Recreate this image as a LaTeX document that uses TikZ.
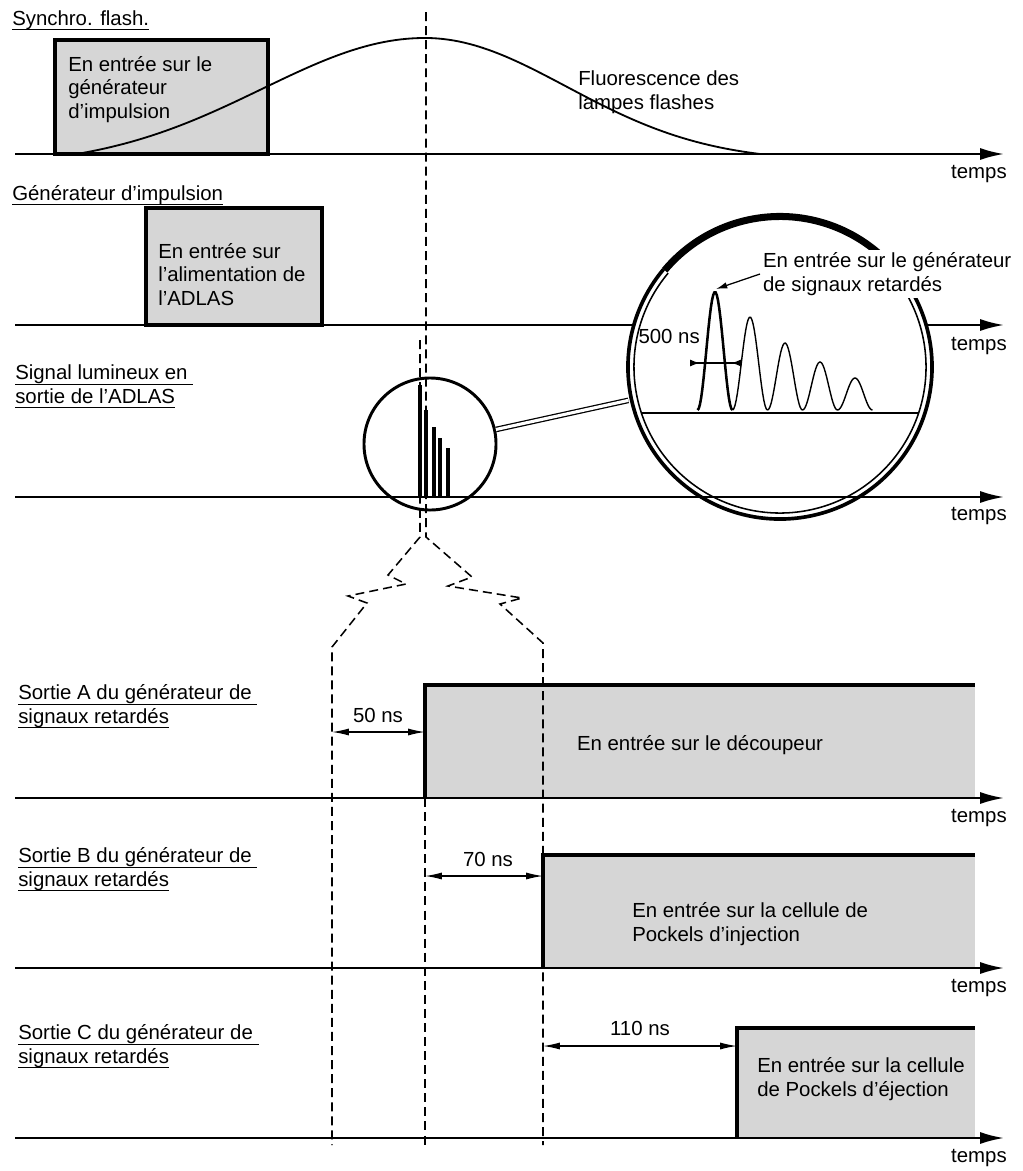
\documentclass[tikz,border=0pt]{standalone}
\usepackage{fontspec}
\setmainfont{Liberation Sans}
\usetikzlibrary{arrows.meta, positioning, calc}
\definecolor{stipple}{gray}{0.84}
\newsavebox{\slbox}
\newcommand{\souligne}[1]{\sbox{\slbox}{#1}%
  \rlap{\rule[-3.6pt]{\wd\slbox}{0.9pt}}\usebox{\slbox}}

\begin{document}
\begin{tikzpicture}[
    x=0.025cm, y=-0.025cm,
    >=Latex,
    axe/.style={line width=1.5pt, -{Latex[length=17pt,width=8.5pt]}},
    box/.style={fill=stipple, draw, line width=2.6pt},
    front/.style={line width=2.2pt},
    guide/.style={line width=1.1pt, dash pattern=on 6.4pt off 3.6pt},
    dim/.style={line width=0.9pt,
      {Latex[length=12pt,width=5pt]}-{Latex[length=12pt,width=5pt]}},
    txt/.style={font=\fontsize{14.5}{16.5}\selectfont,
      inner sep=0pt, align=left},
    tps/.style={txt, anchor=base east},
    barre/.style={line width=2.6pt},
]
\useasboundingbox (0,0) rectangle (1023,1171);

% --- Synchro. flash. ---
\node[txt, anchor=base west] (lsync) at (12,25) {\souligne{Synchro. flash.}};
\filldraw[box] (55,154) rectangle (268,40);
\node[txt, anchor=base west] (tsync) at (68,118)
  {En entrée sur le\\générateur\\d'impulsion};
\draw[line width=1.3pt]
  plot[domain=77:425, samples=60]
    (\x, {154-116*(exp(-(((\x-425)/230)^2))-0.101)/0.899})
  -- plot[domain=425:760, samples=60]
    (\x, {154-116*(exp(-(((\x-425)/200)^2))-0.0604)/0.9396});
\draw[axe] (15,154) -- (1004,154);
\node[tps] (tps1) at (1007,178) {temps};
\node[txt, anchor=base west] (tfluo) at (578,109)
  {Fluorescence des\\lampes flashes};

% --- Generateur d'impulsion ---
\node[txt, anchor=base west] (lgen) at (12,200) {\souligne{Générateur d'impulsion}};
\filldraw[box] (146,325) rectangle (322,208);
\node[txt, anchor=base west] (tgen) at (158,305)
  {En entrée sur\\l'alimentation de\\l'ADLAS};
\draw[line width=1.5pt] (15,325) -- (634,325);
\draw[axe] (926,325) -- (1004,325);
\node[tps] (tps2) at (1007,350) {temps};

% --- Signal lumineux ---
\node[txt, anchor=base west] (lsig) at (15,403)
  {\souligne{Signal lumineux en~}\\\souligne{sortie de l'ADLAS}};
\draw[axe] (15,497) -- (1004,497);
\node[tps] (tps3) at (1007,520) {temps};

% loupe
\node[draw, circle, line width=2.1pt, minimum size=3.3cm,
      inner sep=0pt] (loupe) at (430,444) {};
\draw[barre] (420,497) -- (420,385)  (426,497) -- (426,410)
  (434,497) -- (434,427)  (440,497) -- (440,438)  (448,497) -- (448,448);

% agrandissement
\node[circle, minimum size=7.75cm, inner sep=0pt] (zoomc) at (780,367) {};
\draw[line width=2.6pt] (zoomc.center) ++(140:3.8cm) arc (140:408:3.8cm);
\draw[line width=1.1pt] (zoomc.center) ++(140:3.65cm) arc (140:408:3.65cm);
\draw[line width=5pt] (zoomc.center) ++(48:3.7625cm) arc (48:140:3.7625cm);
\draw[line width=0.9pt, double, double distance=2.2pt] (loupe) -- (zoomc);
\draw[line width=1.1pt] (641,413) -- (919,413);

% impulsions
\draw[line width=1.8pt] plot[domain=697.5:732.5, samples=30]
  (\x, {410-118*(1-cos(360*(\x-697.5)/35))/2});
\draw[line width=1pt]
  plot[domain=732.5:767.5, samples=30] (\x, {410-93*(1-cos(360*(\x-732.5)/35))/2})
  plot[domain=767.5:802.5, samples=30] (\x, {410-67*(1-cos(360*(\x-767.5)/35))/2})
  plot[domain=802.5:837.5, samples=30] (\x, {410-48*(1-cos(360*(\x-802.5)/35))/2})
  plot[domain=837.5:872.5, samples=30] (\x, {410-32*(1-cos(360*(\x-837.5)/35))/2});

\node[txt, anchor=base west, fill=white, inner sep=2pt] (tret) at (760,291)
  {En entrée sur le générateur\\de signaux retardés};
\coordinate (crete) at (716,289);
\draw[line width=0.9pt, -{Latex[length=8pt,width=4.5pt]}] (tret.west) -- (crete);

\node[txt, anchor=base east] (t500) at (700,343) {500 ns};
\draw[line width=0.9pt,
  {Latex[reversed,length=7pt,width=5pt]}-{Latex[reversed,length=7pt,width=5pt]}]
  (690,363) -- (741,363);

% --- Sortie A ---
\node[txt, anchor=base west] (lsa) at (18,723)
  {\souligne{Sortie A du générateur de~}\\\souligne{signaux retardés}};
\fill[stipple] (425,798) rectangle (975,685);
\draw[front] (425,798) -- (425,685) -- (975,685);
\draw[axe] (15,798) -- (1004,798);
\node[tps] (tpsa) at (1007,822) {temps};
\node[txt] (tsa) at (700,745) {En entrée sur le découpeur};

% --- Sortie B ---
\node[txt, anchor=base west] (lsb) at (18,886)
  {\souligne{Sortie B du générateur de~}\\\souligne{signaux retardés}};
\fill[stipple] (543,968) rectangle (975,855);
\draw[front] (543,968) -- (543,855) -- (975,855);
\draw[axe] (15,968) -- (1004,968);
\node[tps] (tpsb) at (1007,992) {temps};
\node[txt, anchor=base west] (tsb) at (632,941)
  {En entrée sur la cellule de\\Pockels d'injection};

% --- Sortie C ---
\node[txt, anchor=base west] (lsc) at (18,1063)
  {\souligne{Sortie C du générateur de~}\\\souligne{signaux retardés}};
\fill[stipple] (737,1138) rectangle (975,1028);
\draw[front] (737,1138) -- (737,1028) -- (975,1028);
\draw[axe] (15,1138) -- (1004,1138);
\node[tps] (tpsc) at (1007,1162) {temps};
\node[txt, anchor=base west] (tsc) at (757,1096)
  {En entrée sur la cellule\\de Pockels d'éjection};

% Repères en pointillés
\draw[guide] (426,12) -- (426,537) -- (472,577) -- (448,586) -- (522,598)
  -- (500,604) -- (543,643) -- (543,1145);
\draw[guide] (420,340) -- (420,537) -- (388,575) -- (406,584) -- (348,596)
  -- (367,603) -- (332,647) -- (332,1145);
\draw[guide] (425,798) -- (425,1145);

% Retards
\node[txt, anchor=base] (t50) at (378,722) {50 ns};
\draw[dim] (332,732) -- (425,732);
\node[txt, anchor=base] (t70) at (488,866) {70 ns};
\draw[dim] (425,876) -- (543,876);
\node[txt, anchor=base] (t110) at (640,1035) {110 ns};
\draw[dim] (543,1046) -- (737,1046);

\end{tikzpicture}
\end{document}
